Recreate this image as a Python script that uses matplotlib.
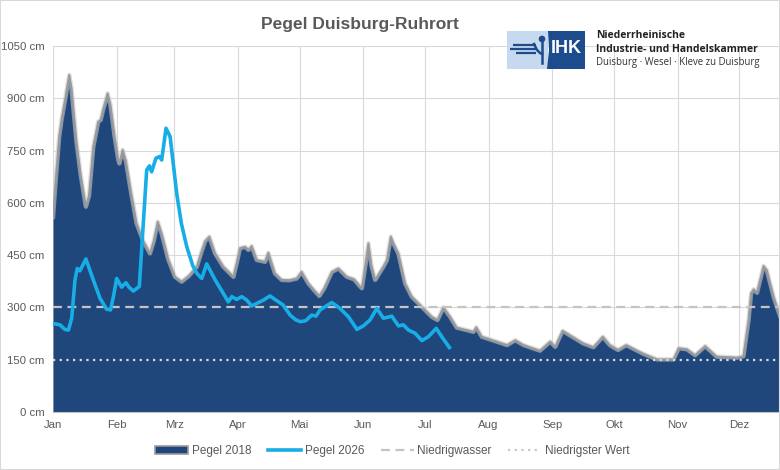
import matplotlib
matplotlib.use('Agg')
import matplotlib.pyplot as plt
from matplotlib.patches import Patch, Rectangle, Circle, Polygon
from matplotlib.lines import Line2D

plt.rcParams['font.family'] = ['Liberation Sans', 'DejaVu Sans']

# Pegel 2018: Tag im Jahr / Wasserstand in cm
tage_2018 = [0, 1.5, 3, 4.2, 6, 7.9, 9, 11.5, 13.5, 16, 17.5, 19.6, 22, 23.2, 24.5, 26.6,
             28, 30, 31.8, 32.3, 33.9, 35.5, 38, 40.7, 44, 47.2, 49, 51, 53, 56, 59.4,
             62.6, 66, 70, 72, 74, 76.1, 78.9, 82.9, 87.8, 89.5, 91, 93.5, 95.1, 96.7,
             99.2, 103.2, 104.8, 108, 111.3, 115, 118.6, 121, 124.3, 127, 129.6, 132,
             135.7, 138.9, 143, 146.5, 149.5, 150.3, 152, 153.5, 155, 156.8, 160.8,
             162.5, 164.4, 166, 168.1, 171.4, 174.6, 179.5, 184.4, 187.1, 190, 193.3,
             196.5, 201.4, 204.6, 206, 208.7, 214.4, 221, 225, 229, 237, 242, 244.4,
             248, 253, 258, 263, 267.6, 271, 275, 279, 287, 294, 302, 304.5, 308.5,
             312.5, 317.4, 323, 333, 336, 338.5, 339.7, 341, 342.6, 345.8, 347.4,
             350.7, 352.3, 354, 357, 365]
pegel_2018 = [560, 680, 790, 840, 900, 967, 930, 772, 680, 589, 620, 761, 833, 838, 870, 914,
              880, 790, 723, 713, 752, 720, 630, 541, 490, 455, 490, 546, 510, 440, 388,
              374, 390, 417, 455, 490, 503, 455, 417, 388, 430, 470, 474, 465, 476,
              436, 431, 457, 398, 379, 378, 383, 402, 369, 350, 333, 355,
              402, 412, 388, 381, 360, 355, 420, 484, 420, 379, 417,
              436, 503, 480, 455, 369, 331, 302, 273, 264, 300, 273,
              242, 235, 230, 243, 216, 205, 192, 206, 192, 176, 202, 187,
              233, 215, 197, 186, 216, 192, 178, 192, 168, 151, 151, 183, 180,
              163, 189, 159, 156, 160, 264, 340, 352, 342, 419, 407,
              331, 302, 273, 240, 200]

# Pegel 2026 (bis Mitte Juli)
tage_2026 = [0, 3.4, 5.8, 7.5, 9.1, 10.7, 11.8, 13.1, 16, 19.6, 22.9, 26.1, 28, 29.4, 31,
             33.4, 35.5, 37, 39.1, 42, 43.5, 45.6, 46.9, 48, 50.1, 51.8, 52.9, 55, 57,
             60.2, 62.5, 65.1, 68, 70, 72.4, 74.8, 78.9, 82.9, 85.3, 87, 89.4, 91.9,
             94.3, 96.7, 100, 102.4, 105.6, 108, 112, 115.4, 118, 120.3, 123, 125.9,
             128, 130, 132.4, 135.7, 139.7, 143.8, 147.9, 151, 154.3, 157.6, 160.8,
             164.9, 168.1, 170.5, 173, 176.2, 179.5, 182.7, 186.5, 189.2, 192.9]
pegel_2026 = [254, 250, 237, 235, 269, 379, 412, 405, 439, 379, 326, 295, 293, 331, 383,
              358, 371, 358, 347, 360, 500, 694, 706, 689, 728, 733, 723, 814, 790,
              627, 540, 474, 420, 398, 383, 425, 379, 340, 316, 331, 323, 331,
              321, 304, 314, 321, 333, 323, 307, 278, 265, 259, 262, 278,
              275, 293, 302, 314, 297, 273, 237, 247, 264, 297, 269,
              275, 247, 250, 235, 226, 205, 216, 240, 216, 185]

niedrigwasser = 300
niedrigster_wert = 150

monate = ['Jan', 'Feb', 'Mrz', 'Apr', 'Mai', 'Jun', 'Jul', 'Aug', 'Sep', 'Okt', 'Nov', 'Dez']
monat_start = [0, 31, 59, 90, 120, 151, 181, 212, 243, 273, 304, 334]
y_werte = [0, 150, 300, 450, 600, 750, 900, 1050]

navy = '#1f477b'
hellblau = '#17ade6'
grau = '#595959'

W, H = 780, 470
fig = plt.figure(figsize=(W / 100, H / 100), dpi=100)
# Diagramm ist rechts abgeschnitten (31.12. liegt ausserhalb des Bildes)
ax = fig.add_axes([53 / W, 58 / H, 750 / W, 366 / H])

ax.fill_between(tage_2018, pegel_2018, 0, color=navy, lw=0, zorder=2)
ax.plot(tage_2018, pegel_2018, color='#c8c8c8', lw=3.2, alpha=0.6, zorder=2.4)
ax.plot(tage_2018, pegel_2018, color='#9a9a9a', lw=1.4, zorder=2.5)
ax.axhline(niedrigwasser, color='#c4c4c4', lw=1.6, ls=(0, (4, 2.5)), zorder=3)
ax.axhline(niedrigster_wert, color='#dcdcdc', lw=1.6, ls=(0, (1, 2)), zorder=3)
ax.plot(tage_2026, pegel_2026, color=hellblau, lw=2.6, solid_joinstyle='round', zorder=4)

ax.set_xlim(0, 365)
ax.set_ylim(0, 1050)
ax.set_xticks(monat_start)
ax.set_xticklabels(monate)
ax.set_yticks(y_werte)
ax.set_yticklabels([f'{v} cm' for v in y_werte])
ax.tick_params(length=0, colors=grau, labelsize=8.2)
ax.tick_params(axis='y', pad=6)
ax.tick_params(axis='x', pad=6)
ax.grid(color='#d9d9d9', lw=0.8)
ax.set_axisbelow(True)
for s in ['top', 'right', 'left']:
    ax.spines[s].set_visible(False)
ax.spines['bottom'].set_color('#bfbfbf')

fig.text(360 / W, 1 - 25 / H, 'Pegel Duisburg-Ruhrort', ha='center', va='center',
         fontsize=12.5, fontweight='bold', color=grau)

# Legende
handles = [Patch(facecolor=navy, edgecolor='#9a9a9a', lw=1.2),
           Line2D([], [], color=hellblau, lw=2.6),
           Line2D([], [], color='#c4c4c4', lw=1.6, ls=(0, (4, 2.5))),
           Line2D([], [], color='#c8c8c8', lw=1.6, ls=(0, (1, 2)))]
labels = ['Pegel 2018', 'Pegel 2026', 'Niedrigwasser', 'Niedrigster Wert']
fig.legend(handles, labels, loc='center', bbox_to_anchor=(0.503, 1 - 451 / H), ncol=4,
           frameon=False, fontsize=8.5, handlelength=2.8, handletextpad=0.3,
           columnspacing=1.4, labelcolor=grau)

# IHK-Logo
lg = fig.add_axes([507 / W, 1 - 69 / H, 78 / W, 38 / H])
lg.set_xlim(0, 78)
lg.set_ylim(38, 0)
lg.axis('off')
lg.add_patch(Rectangle((0, 0), 41, 38, color='#c6d9ee', lw=0))
lg.add_patch(Polygon([(41, 0), (78, 0), (78, 38), (40, 38), (42, 19)], color='#1d4c8c', lw=0))
lg.text(59.5, 17.5, 'IHK', color='white', fontsize=13, fontweight='bold', ha='center', va='center')
for yy, x0 in [(13.5, 6), (17.5, 3), (21.5, 9)]:
    lg.plot([x0, 29], [yy, yy], color='#1d4c8c', lw=1.6, solid_capstyle='butt')
lg.plot([35, 35], [9, 32], color='#1d4c8c', lw=1.8)
lg.plot([27, 30, 33, 35], [13, 19, 22, 23], color='#1d4c8c', lw=1.8)
lg.add_patch(Circle((35, 8), 2.6, color='#1d4c8c'))

fig.text(596 / W, 1 - 36 / H, 'Niederrheinische', fontsize=7.5, fontweight='bold',
         color='#222222', va='center', family='Open Sans')
fig.text(596 / W, 1 - 49 / H, 'Industrie- und Handelskammer', fontsize=7.5, fontweight='bold',
         color='#222222', va='center', family='Open Sans')
fig.text(596 / W, 1 - 63 / H, 'Duisburg \u00b7 Wesel \u00b7 Kleve zu Duisburg', fontsize=6.95,
         color='#333333', va='center', family='Open Sans')

fig.patches.append(Rectangle((0, 0), 1, 1, transform=fig.transFigure, fill=False,
                             edgecolor='#d9d9d9', lw=1.5))

fig.savefig('out.png', dpi=100)
